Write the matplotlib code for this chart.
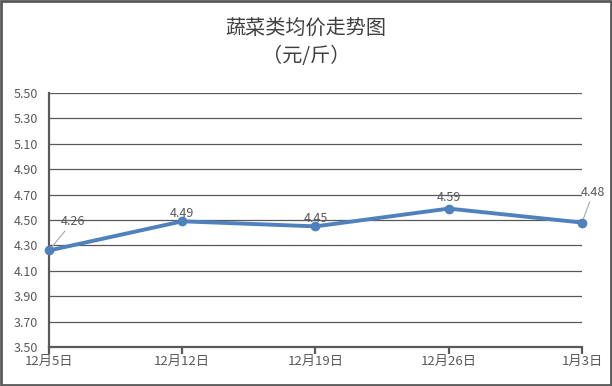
import matplotlib.pyplot as plt
from matplotlib.patches import Rectangle

plt.rcParams['font.family'] = ['Noto Sans CJK SC', 'DejaVu Sans']

dates = ['12月5日', '12月12日', '12月19日', '12月26日', '1月3日']
prices = [4.26, 4.49, 4.45, 4.59, 4.48]
yticks = [3.50, 3.70, 3.90, 4.10, 4.30, 4.50, 4.70, 4.90, 5.10, 5.30, 5.50]

gray = '#595959'
blue = '#4F81BD'

fig = plt.figure(figsize=(6.12, 3.86), dpi=100)
ax = fig.add_axes([0.080, 0.101, 0.871, 0.658])

x = list(range(len(dates)))
ax.plot(x, prices, color=blue, lw=2.8, marker='o', ms=6, zorder=3, clip_on=False)

ax.set_xlim(0, len(dates) - 1)
ax.set_ylim(3.5, 5.5)
ax.set_yticks(yticks)
ax.set_yticklabels([f'{v:.2f}' for v in yticks], fontsize=9, color=gray)
ax.set_xticks(x)
ax.set_xticklabels(dates, fontsize=9.5, color=gray)
ax.yaxis.grid(True, color=gray, lw=0.9)
ax.set_axisbelow(True)

for s in ['top', 'right']:
    ax.spines[s].set_visible(False)
for s in ['left', 'bottom']:
    ax.spines[s].set_color(gray)
    ax.spines[s].set_linewidth(1.6)
ax.tick_params(axis='y', length=0, pad=8)
ax.tick_params(axis='x', length=5, width=1.6, color=gray, direction='out', pad=1)

# data labels (first and last with leader lines)
offsets = [(17, 16), (0, 1), (0, 1), (0, 3), (8, 17)]
for i, (xi, yi) in enumerate(zip(x, prices)):
    dx, dy = offsets[i]
    if i in (0, len(x) - 1):
        ax.annotate(f'{yi:.2f}', (xi, yi), xytext=(dx, dy), textcoords='offset points',
                    fontsize=9, color=gray, ha='center', va='bottom',
                    arrowprops=dict(arrowstyle='-', color='#A6A6A6', lw=0.8,
                                    shrinkA=0, shrinkB=3),
                    annotation_clip=False)
    else:
        ax.annotate(f'{yi:.2f}', (xi, yi), xytext=(dx, dy), textcoords='offset points',
                    fontsize=9, color=gray, ha='center', va='bottom')

fig.text(0.5, 0.927, '蔬菜类均价走势图', ha='center', va='center', fontsize=14.5, color='#404040')
fig.text(0.5, 0.853, '（元/斤）', ha='center', va='center', fontsize=14.5, color='#404040')

fig.patches.append(Rectangle((0.002, 0.003), 0.996, 0.994, transform=fig.transFigure,
                             fill=False, edgecolor=gray, lw=2))

fig.savefig('out.png', dpi=100)
